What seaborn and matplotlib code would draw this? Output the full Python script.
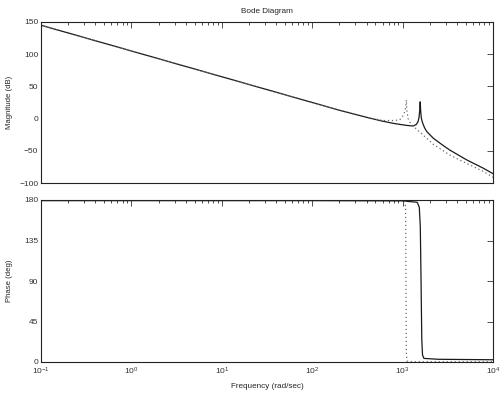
import numpy as np
import pandas as pd
import matplotlib
matplotlib.use("Agg")
import matplotlib.pyplot as plt
import seaborn as sns
from matplotlib.ticker import LogLocator, FixedLocator, NullFormatter

# ---- data ----
mag_solid_w = [0.1, 1, 10, 100, 200, 400, 600, 800, 930, 1100, 1310, 1420, 1480,
               1520, 1545, 1565, 1585, 1610, 1650, 1700, 1760, 1850, 2000, 2190,
               2700, 3320, 5100, 7800, 10000]
mag_solid_db = [145, 105, 65, 25, 13, 2, -4, -7.5, -9, -10.5, -11.5, -9, -5,
                2, 12, 26, 12, 1, -5, -10, -15, -20, -25, -30.5,
                -40, -48.8, -64, -77, -85.5]

mag_dot_w = [0.1, 1, 10, 100, 200, 400, 600, 800, 930, 1030, 1070, 1090, 1100,
             1115, 1150, 1210, 1300, 1440, 1700, 2190, 3320, 5100, 7800, 10000]
mag_dot_db = [145, 105, 65, 25, 13, 2, -3, -3, -2, 6, 14, 22, 29,
              12, 0, -6, -11, -17, -26, -40, -56.5, -69.5, -82, -91]

ph_solid_w = [0.1, 1, 10, 100, 1000, 1450, 1530, 1570, 1600, 1630, 1660, 1720, 2500, 10000]
ph_solid_deg = [179.3, 179.3, 179.3, 179.3, 179, 177.5, 172, 150, 90, 25, 8, 4, 3, 2.5]

ph_dot_w = [0.1, 1, 10, 100, 1000, 1060, 1080, 1090, 1100, 1120, 1200, 10000]
ph_dot_deg = [180, 180, 180, 180, 180, 179, 170, 90, 10, 1, 0.3, 0.3]

series_names = ["solid", "dotted"]
mag_yticks = [-100, -50, 0, 50, 100, 150]
ph_yticks = [0, 45, 90, 135, 180]

title_text = "Bode Diagram"
mag_label = "Magnitude (dB)"
ph_label = "Phase (deg)"
x_label = "Frequency (rad/sec)"

# ---- frames ----
mag_df = pd.concat([
    pd.DataFrame({"w": mag_solid_w, "v": mag_solid_db, "s": series_names[0]}),
    pd.DataFrame({"w": mag_dot_w, "v": mag_dot_db, "s": series_names[1]}),
])
ph_df = pd.concat([
    pd.DataFrame({"w": ph_solid_w, "v": ph_solid_deg, "s": series_names[0]}),
    pd.DataFrame({"w": ph_dot_w, "v": ph_dot_deg, "s": series_names[1]}),
])

sns.set_style("white")
plt.rcParams["font.family"] = ["Liberation Sans", "DejaVu Sans"]
plt.rcParams["mathtext.fontset"] = "custom"
plt.rcParams["mathtext.rm"] = "Liberation Sans"
plt.rcParams["mathtext.it"] = "Liberation Sans"

fig = plt.figure(figsize=(5.02, 3.96), dpi=100)
ax1 = fig.add_axes([41 / 502, 1 - 183 / 396, 452 / 502, 161 / 396])
ax2 = fig.add_axes([41 / 502, 1 - 362 / 396, 452 / 502, 162 / 396])

palette = {"solid": "#1a1a1a", "dotted": "#6a6a6a"}
dashes = {"solid": "", "dotted": (1, 2.2)}

for ax, df in ((ax1, mag_df), (ax2, ph_df)):
    sns.lineplot(data=df, x="w", y="v", hue="s", style="s", palette=palette,
                 dashes=dashes, estimator=None, sort=False, legend=False, ax=ax,
                 linewidth=0.9)
    ax.set_xscale("log")
    ax.set_xlim(0.1, 1e4)
    ax.xaxis.set_major_locator(LogLocator(base=10, numticks=10))
    ax.xaxis.set_minor_locator(LogLocator(base=10, subs=np.arange(2, 10), numticks=20))
    ax.tick_params(axis="both", which="both", direction="in", top=True, right=True,
                   labelsize=6, colors="#333333", width=0.6)
    ax.tick_params(axis="y", which="both", pad=2)
    ax.tick_params(axis="x", which="both", pad=3)
    ax.tick_params(which="major", length=4)
    ax.tick_params(which="minor", length=2)
    for sp in ax.spines.values():
        sp.set_linewidth(0.8)
        sp.set_color("#222222")
    ax.set_xlabel("")
    ax.set_ylabel("")

ax1.set_ylim(-100, 150)
ax1.yaxis.set_major_locator(FixedLocator(mag_yticks))
ax1.xaxis.set_major_formatter(NullFormatter())
ax1.xaxis.set_minor_formatter(NullFormatter())
ax1.set_ylabel(mag_label, fontsize=5.6)
ax1.yaxis.set_label_coords(-0.061, 0.5)
ax1.set_title(title_text, fontsize=5.9, pad=6.5)

ax2.set_ylim(0, 180)
ax2.yaxis.set_major_locator(FixedLocator(ph_yticks))
ax2.set_ylabel(ph_label, fontsize=5.6)
ax2.yaxis.set_label_coords(-0.062, 0.5)
ax2.set_xlabel(x_label, fontsize=5.9, labelpad=4)

fig.savefig("out.png", dpi=100)
